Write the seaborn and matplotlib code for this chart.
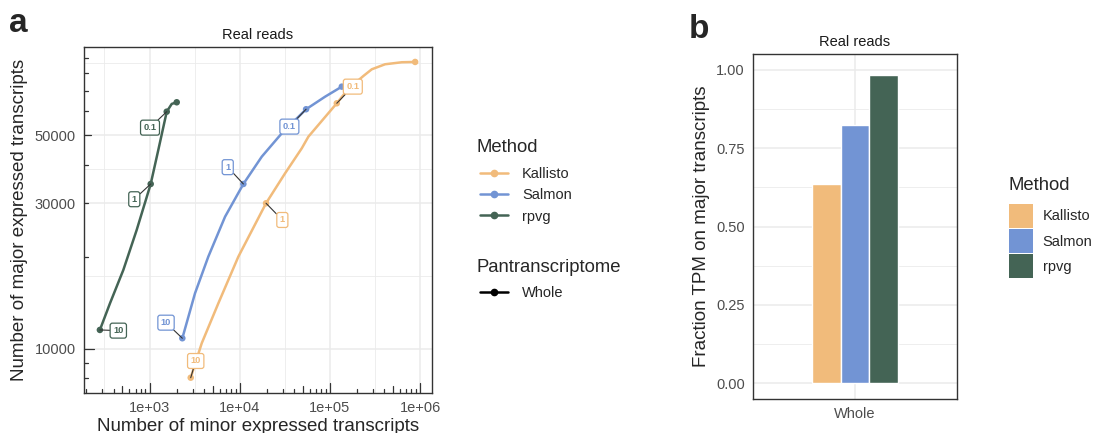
import numpy as np
import pandas as pd
import matplotlib
matplotlib.use("Agg")
import matplotlib.pyplot as plt
import matplotlib.transforms as mtransforms
from matplotlib.lines import Line2D
from matplotlib.patches import Patch
from matplotlib.ticker import FixedLocator, FuncFormatter
import seaborn as sns

# ---------------- data ----------------
methods = ["Kallisto", "Salmon", "rpvg"]
palette = {"Kallisto": "#F1BB7B", "Salmon": "#7294D4", "rpvg": "#446455"}

# points (minor, major)
kallisto_minor = [2862, 3791, 5794, 9650, 19560, 31790, 48700, 57620, 74340, 118950,
                  140800, 174450, 234400, 290700, 408000, 625200, 878000]
kallisto_major = [8034, 10420, 14090, 20030, 29980, 37580, 45400, 49550, 54140, 63760,
                  67890, 72650, 78340, 82410, 85590, 86900, 87100]
salmon_minor = [2311, 3193, 4483, 6874, 10970, 17540, 29220, 54330, 88270, 135200]
salmon_major = [10820, 15190, 20030, 27080, 34670, 42610, 50830, 60950, 67010, 72290]
rpvg_minor = [282, 365, 513, 721, 1031, 1252, 1552, 1763, 2003]
rpvg_major = [11520, 14090, 18120, 24500, 34670, 44830, 59840, 63450, 64240]

# highlighted thresholds (10, 1, 0.1) and the curve end
thresholds = ["10", "1", "0.1"]
kallisto_pts_minor = [2862, 19560, 118950, 878000]
kallisto_pts_major = [8034, 29980, 63760, 87100]
salmon_pts_minor = [2311, 10970, 54330, 135200]
salmon_pts_major = [10820, 34670, 60950, 72290]
rpvg_pts_minor = [282, 1031, 1552, 2003]
rpvg_pts_major = [11520, 34670, 59840, 64240]

# repelled label box centres (minor, major)
kallisto_lab_minor = [3251, 29650, 179000]
kallisto_lab_major = [9113, 26420, 72290]
salmon_lab_minor = [1524, 7360, 35480]
salmon_lab_major = [12170, 39360, 53460]
rpvg_lab_minor = [451, 678, 1013]
rpvg_lab_major = [11460, 30900, 53050]

# panel b
bar_group = ["Whole"]
bar_values = [0.634, 0.825, 0.983]  # Kallisto, Salmon, rpvg

# ---------------- frames ----------------
curves = pd.concat([
    pd.DataFrame({"Method": "Kallisto", "minor": kallisto_minor, "major": kallisto_major}),
    pd.DataFrame({"Method": "Salmon", "minor": salmon_minor, "major": salmon_major}),
    pd.DataFrame({"Method": "rpvg", "minor": rpvg_minor, "major": rpvg_major}),
], ignore_index=True)

pts = pd.concat([
    pd.DataFrame({"Method": "Kallisto", "minor": kallisto_pts_minor, "major": kallisto_pts_major}),
    pd.DataFrame({"Method": "Salmon", "minor": salmon_pts_minor, "major": salmon_pts_major}),
    pd.DataFrame({"Method": "rpvg", "minor": rpvg_pts_minor, "major": rpvg_pts_major}),
], ignore_index=True)

labels = {
    "Kallisto": (kallisto_pts_minor, kallisto_pts_major, kallisto_lab_minor, kallisto_lab_major),
    "Salmon": (salmon_pts_minor, salmon_pts_major, salmon_lab_minor, salmon_lab_major),
    "rpvg": (rpvg_pts_minor, rpvg_pts_major, rpvg_lab_minor, rpvg_lab_major),
}

bars = pd.DataFrame({"Pantranscriptome": bar_group * 3, "Method": methods, "Fraction": bar_values})

# ---------------- style ----------------
sns.set_style("white")
plt.rcParams["font.family"] = ["Liberation Sans", "DejaVu Sans"]

W, H = 1094, 433
fig = plt.figure(figsize=(W / 100, H / 100), dpi=100)


def px_axes(l, t, r, b):
    return fig.add_axes([l / W, 1 - b / H, (r - l) / W, (b - t) / H])


def fx(x):
    return x / W


def fy(y):
    return 1 - y / H


GRID = "#EBEBEB"
BORDER = "#333333"
TICKC = "#4D4D4D"


def style_axes(ax):
    for s in ax.spines.values():
        s.set_color(BORDER)
        s.set_linewidth(1.0)
        s.set_visible(True)
    ax.tick_params(which="major", direction="out", length=3.5, width=0.9,
                   color=BORDER, labelcolor=TICKC, labelsize=10.5, pad=2.5)
    ax.tick_params(which="minor", length=0)
    ax.grid(which="major", color=GRID, lw=1.1)
    ax.grid(which="minor", color=GRID, lw=0.6)
    ax.set_axisbelow(True)
    ax.set_facecolor("white")


# ---------------- panel a ----------------
axA = px_axes(84, 47, 432, 393)
axA.set_xscale("log")
axA.set_yscale("log")

sns.lineplot(data=curves, x="minor", y="major", hue="Method", hue_order=methods,
             palette=palette, sort=False, estimator=None, units="Method",
             lw=1.8, legend=False, ax=axA)
sns.scatterplot(data=pts, x="minor", y="major", hue="Method", hue_order=methods,
                palette=palette, s=22, linewidth=0, legend=False, ax=axA, zorder=4)

for m in methods:
    px_, py_, lx_, ly_ = labels[m]
    for i, t in enumerate(thresholds):
        axA.annotate(t, xy=(px_[i], py_[i]), xytext=(lx_[i], ly_[i]), textcoords="data",
                     ha="center", va="center", fontsize=6.7, fontweight="bold",
                     color=palette[m], zorder=6,
                     bbox=dict(boxstyle="round,pad=0.32,rounding_size=0.25", fc="white",
                               ec=palette[m], lw=0.9),
                     arrowprops=dict(arrowstyle="-", color="#333333", lw=0.8,
                                     shrinkA=0, shrinkB=0))

axA.set_xlim(188, 1.35e6)
axA.set_ylim(7157, 97500)
axA.xaxis.set_major_locator(FixedLocator([1e3, 1e4, 1e5, 1e6]))
axA.xaxis.set_minor_locator(FixedLocator([316.2, 3162, 31623, 316228]))
axA.xaxis.set_major_formatter(FuncFormatter(lambda v, p: "1e+%02d" % int(round(np.log10(v)))))
axA.yaxis.set_major_locator(FixedLocator([10000, 30000, 50000]))
axA.yaxis.set_minor_locator(FixedLocator([17320, 38730, 86600]))
axA.yaxis.set_major_formatter(FuncFormatter(lambda v, p: "%d" % v))
style_axes(axA)

# annotation_logticks (inside, bottom and left)
axh = 393 - 47
axw = 432 - 84
tx = mtransforms.blended_transform_factory(axA.transData, axA.transAxes)
ty = mtransforms.blended_transform_factory(axA.transAxes, axA.transData)
for k in range(2, 7):
    for mlt in range(1, 10):
        v = mlt * 10 ** k
        if 188 <= v <= 1.35e6:
            L = 10 if mlt == 1 else (7 if mlt == 5 else 4)
            axA.add_line(Line2D([v, v], [0, L / axh], transform=tx, color=BORDER, lw=0.9, clip_on=False))
for k in range(3, 5):
    for mlt in range(1, 10):
        v = mlt * 10 ** k
        if 7157 <= v <= 97500:
            L = 10 if mlt == 1 else (7 if mlt == 5 else 4)
            axA.add_line(Line2D([0, L / axw], [v, v], transform=ty, color=BORDER, lw=0.9, clip_on=False))

axA.set_title("Real reads", fontsize=10.5, color="#1A1A1A", pad=6)
axA.set_xlabel("Number of minor expressed transcripts", fontsize=13.5, labelpad=2)
axA.set_ylabel("Number of major expressed transcripts", fontsize=13.5, labelpad=5)

# legends for panel a
fig.text(fx(477), fy(152), "Method", fontsize=13.3, ha="left", va="baseline")
method_handles = [Line2D([0], [0], color=palette[m], lw=1.8, marker="o", ms=4.5) for m in methods]
fig.legend(method_handles, methods, loc="center left",
           bbox_to_anchor=(fx(480), fy(195.3)), frameon=False, fontsize=10.5,
           handlelength=1.92, handletextpad=0.96, labelspacing=0.5,
           borderpad=0, borderaxespad=0)
fig.text(fx(477), fy(271.7), "Pantranscriptome", fontsize=13.3, ha="left", va="baseline")
pan_handles = [Line2D([0], [0], color="black", lw=1.8, marker="o", ms=4.5)]
fig.legend(pan_handles, ["Whole"], loc="center left",
           bbox_to_anchor=(fx(480), fy(293.3)), frameon=False, fontsize=10.5,
           handlelength=1.92, handletextpad=0.96, borderpad=0, borderaxespad=0)

# ---------------- panel b ----------------
axB = px_axes(753, 54, 957, 399)
sns.barplot(data=bars, x="Pantranscriptome", y="Fraction", hue="Method", hue_order=methods,
            palette=palette, width=0.9, saturation=1, legend=False, ax=axB, zorder=3)
axB.set_xlim(-1.067, 1.067)
axB.set_ylim(-0.05, 1.05)
axB.yaxis.set_major_locator(FixedLocator([0, 0.25, 0.5, 0.75, 1.0]))
axB.yaxis.set_minor_locator(FixedLocator([0.125, 0.375, 0.625, 0.875]))
axB.yaxis.set_major_formatter(FuncFormatter(lambda v, p: "%.2f" % v))
style_axes(axB)
axB.xaxis.grid(True, which="major", color=GRID, lw=1.1)
axB.set_title("Real reads", fontsize=10.5, color="#1A1A1A", pad=6)
axB.set_xlabel("")
axB.set_ylabel("Fraction TPM on major transcripts", fontsize=13.5, labelpad=4)

fig.text(fx(1008), fy(190), "Method", fontsize=13.3, ha="left", va="baseline")
bar_handles = [Patch(facecolor=palette[m], edgecolor="none") for m in methods]
fig.legend(bar_handles, methods, loc="center left",
           bbox_to_anchor=(fx(1009), fy(241)), frameon=False, fontsize=10.5,
           handlelength=1.646, handleheight=2.155, handletextpad=0.67,
           labelspacing=0.1, borderpad=0, borderaxespad=0)

# panel tags
fig.text(fx(9), fy(32), "a", fontsize=24, fontweight="bold", ha="left", va="baseline")
fig.text(fx(689), fy(38), "b", fontsize=24, fontweight="bold", ha="left", va="baseline")

fig.savefig("out.png", dpi=100)
